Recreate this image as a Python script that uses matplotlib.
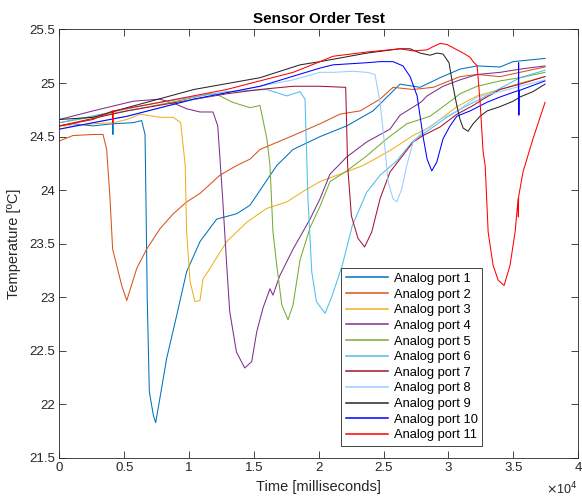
import matplotlib
matplotlib.use("Agg")
import matplotlib.pyplot as plt
from matplotlib.ticker import FuncFormatter, MultipleLocator

plt.rcParams['font.family'] = ['Liberation Sans', 'DejaVu Sans']

# Time stamps in milliseconds and temperatures in degrees C for each analog port
t1 = [0, 1040, 2590, 4100, 4120, 4140, 5670, 6340, 6600, 6670, 6770, 6930, 7240, 7420, 7750,
      8270, 9040, 9810, 10840, 12130, 13670, 14700, 15700, 16760, 18020, 20100, 22160, 24190,
      25270, 26270, 27810, 29360, 30900, 32220, 33990, 34990, 37460]
y1 = [24.60, 24.62, 24.60, 24.62, 24.52, 24.62, 24.63, 24.65, 24.52, 23.92, 22.99, 22.12, 21.90,
      21.83, 22.06, 22.43, 22.83, 23.24, 23.52, 23.73, 23.78, 23.86, 24.04, 24.23, 24.38, 24.50,
      24.60, 24.74, 24.87, 24.99, 24.96, 25.05, 25.13, 25.16, 25.15, 25.20, 25.23]

t2 = [0, 1040, 2590, 3360, 3640, 3900, 4100, 4410, 4800, 5190, 5960, 6730, 7750, 8780, 9810,
      10840, 12380, 13670, 14700, 15470, 18020, 20100, 21640, 23190, 24730, 25730, 27280, 28820,
      30900, 32220, 33990, 35530, 37460]
y2 = [24.46, 24.51, 24.52, 24.52, 24.38, 23.92, 23.45, 23.30, 23.11, 22.97, 23.27, 23.45, 23.64,
      23.78, 23.89, 23.97, 24.14, 24.23, 24.29, 24.38, 24.51, 24.62, 24.71, 24.74, 24.85, 24.96,
      24.94, 24.96, 25.06, 25.08, 25.06, 25.10, 25.15]

t3 = [0, 1040, 2590, 4130, 5210, 6240, 7750, 8780, 9350, 9700, 9810, 10070, 10450, 10840, 11070,
      11610, 12900, 14440, 15990, 17530, 19080, 20100, 21640, 23420, 25500, 27280, 28590, 30670,
      32220, 33990, 35530, 37460]
y3 = [24.60, 24.60, 24.62, 24.63, 24.66, 24.71, 24.68, 24.68, 24.63, 24.23, 23.61, 23.15, 22.96,
      22.97, 23.17, 23.27, 23.52, 23.70, 23.83, 23.89, 24.01, 24.08, 24.15, 24.23, 24.37, 24.51,
      24.59, 24.78, 24.88, 24.94, 25.00, 25.06]

t4 = [0, 2590, 5670, 7750, 9040, 9810, 10840, 11840, 12210, 12590, 12900, 13130, 13650, 14290,
      14830, 15220, 15700, 16240, 16470, 16990, 18020, 19330, 20100, 20870, 22160, 23700, 25500,
      26270, 27870, 28360, 29590, 30900, 32220, 33990, 35530, 37460]
y4 = [24.66, 24.74, 24.83, 24.85, 24.80, 24.76, 24.73, 24.73, 24.60, 23.92, 23.30, 22.87, 22.49,
      22.34, 22.40, 22.68, 22.90, 23.08, 23.02, 23.20, 23.45, 23.73, 23.92, 24.15, 24.31, 24.45,
      24.57, 24.70, 24.82, 24.88, 24.97, 25.03, 25.08, 25.10, 25.13, 25.16]

t5 = [0, 5210, 9040, 11610, 12380, 13360, 14700, 15470, 16000, 16240, 16470, 16760, 17150, 17630,
      18020, 18560, 19330, 20100, 20870, 22160, 23700, 25250, 26790, 28590, 30380, 30900, 32220,
      33990, 35530, 37460]
y5 = [24.63, 24.74, 24.83, 24.90, 24.88, 24.82, 24.77, 24.79, 24.48, 24.23, 23.61, 23.30, 22.93,
      22.79, 22.93, 23.35, 23.65, 23.85, 24.08, 24.18, 24.32, 24.48, 24.62, 24.69, 24.85, 24.90,
      24.97, 25.02, 25.05, 25.10]

t6 = [0, 7750, 12900, 16000, 17530, 18560, 18940, 19170, 19460, 19820, 20490, 21050, 21820, 22590,
      23700, 24730, 25990, 27280, 28590, 29880, 31140, 32450, 33990, 35530, 37460]
y6 = [24.63, 24.82, 24.92, 24.94, 24.88, 24.92, 24.85, 23.92, 23.24, 22.96, 22.85, 23.02, 23.30,
      23.67, 23.98, 24.14, 24.27, 24.46, 24.57, 24.68, 24.77, 24.85, 24.95, 25.05, 25.12]

t7 = [0, 5210, 9040, 12900, 15470, 18020, 20100, 22080, 22230, 22520, 23030, 23540, 24090, 24730,
      25500, 26270, 27280, 28050, 29360, 30670, 31910, 32680, 33990, 35530, 37460]
y7 = [24.60, 24.74, 24.82, 24.90, 24.94, 24.97, 24.97, 24.96, 24.23, 23.76, 23.55, 23.47, 23.61,
      23.92, 24.17, 24.29, 24.45, 24.51, 24.59, 24.71, 24.79, 24.85, 24.94, 24.99, 25.06]

t8 = [0, 5210, 10370, 15470, 18020, 20100, 21100, 22650, 23730, 24340, 24730, 25120, 25350, 25730,
      26020, 26400, 26790, 27280, 28050, 29360, 30670, 32220, 33990, 35530, 37460]
y8 = [24.57, 24.69, 24.85, 24.97, 25.03, 25.10, 25.10, 25.11, 25.10, 25.08, 24.82, 24.38, 24.08,
      23.92, 23.89, 24.01, 24.23, 24.45, 24.55, 24.66, 24.74, 24.87, 24.92, 24.97, 25.03]

t9 = [0, 2590, 5210, 10370, 15470, 18560, 20100, 23730, 26270, 27050, 27810, 28590, 29130, 29590,
      30050, 30360, 30670, 30900, 31140, 31520, 31910, 32450, 32990, 33990, 34990, 35530, 36530,
      37460]
y9 = [24.66, 24.68, 24.77, 24.94, 25.05, 25.17, 25.20, 25.28, 25.32, 25.32, 25.28, 25.26, 25.28,
      25.27, 25.19, 24.97, 24.78, 24.66, 24.58, 24.55, 24.62, 24.69, 24.74, 24.78, 24.83, 24.87,
      24.92, 24.99]

t10 = [0, 5210, 10370, 15470, 20100, 21100, 23730, 24730, 25730, 26500, 27050, 27590, 28050,
       28360, 28720, 29100, 29590, 30130, 30650, 31680, 32970, 33990, 35400, 35420, 35440, 35460,
       37460]
y10 = [24.57, 24.69, 24.85, 24.97, 25.14, 25.17, 25.19, 25.20, 25.20, 25.16, 25.06, 24.88, 24.50,
       24.29, 24.18, 24.26, 24.48, 24.60, 24.69, 24.74, 24.82, 24.87, 24.93, 25.19, 24.70, 24.93,
       25.02]

t11 = [0, 2590, 4100, 4120, 4140, 7750, 12900, 18020, 20100, 21100, 23730, 26270, 27280, 28360,
       28820, 29360, 29900, 30670, 31140, 31680, 31910, 32220, 32450, 32680, 32840, 33070, 33450,
       33840, 34300, 34760, 35150, 35380, 35400, 35420, 35760, 36530, 37460]
y11 = [24.60, 24.66, 24.74, 24.63, 24.74, 24.82, 24.94, 25.10, 25.20, 25.25, 25.29, 25.32, 25.30,
       25.31, 25.34, 25.37, 25.36, 25.31, 25.28, 25.24, 25.20, 25.16, 24.82, 24.36, 24.23, 23.61,
       23.30, 23.16, 23.11, 23.30, 23.61, 23.92, 23.75, 23.94, 24.17, 24.48, 24.82]

labels = ['Analog port %d' % i for i in range(1, 12)]
times = [t1, t2, t3, t4, t5, t6, t7, t8, t9, t10, t11]
temps = [y1, y2, y3, y4, y5, y6, y7, y8, y9, y10, y11]

colors = [(0.000, 0.447, 0.741), (0.850, 0.325, 0.098), (0.929, 0.694, 0.125),
          (0.494, 0.184, 0.556), (0.466, 0.674, 0.188), (0.301, 0.745, 0.933),
          (0.635, 0.078, 0.184), (0.600, 0.800, 1.000), (0.150, 0.150, 0.150),
          (0.000, 0.000, 1.000), (1.000, 0.000, 0.000)]

axis_gray = (0.15, 0.15, 0.15)

fig = plt.figure(figsize=(5.82, 4.99), dpi=100)
ax = fig.add_axes([0.1022, 0.0822, 0.8909, 0.8587])

for t, y, c, lab in zip(times, temps, colors, labels):
    ax.plot(t, y, color=c, lw=0.75, label=lab)

ax.set_xlim(0, 40000)
ax.set_ylim(21.5, 25.5)
ax.xaxis.set_major_locator(MultipleLocator(5000))
ax.yaxis.set_major_locator(MultipleLocator(0.5))
ax.xaxis.set_major_formatter(FuncFormatter(lambda v, p: '%g' % (v / 1e4)))
ax.yaxis.set_major_formatter(FuncFormatter(lambda v, p: '%g' % v))

ax.tick_params(direction='in', length=5, width=0.6, color=axis_gray, labelcolor=axis_gray,
               labelsize=9.5, top=True, right=True, pad=3)
for s in ax.spines.values():
    s.set_color(axis_gray)
    s.set_linewidth(0.6)

ax.set_title('Sensor Order Test', fontsize=11, fontweight='bold', color='black', pad=5)
ax.set_xlabel('Time [milliseconds]', fontsize=10.5, color=axis_gray, labelpad=4)
ax.set_ylabel('Temperature [ºC]', fontsize=10.5, color=axis_gray, labelpad=6)

ax.text(1.0, -0.072, r'$\times$10$^{4}$', transform=ax.transAxes, ha='right', va='center',
        fontsize=9, color=axis_gray)

leg = ax.legend(loc='lower right', bbox_to_anchor=(0.815, 0.028), fontsize=9.3,
                frameon=True, fancybox=False, edgecolor=axis_gray, framealpha=1,
                handlelength=3.3, labelspacing=0.28, borderpad=0.35, handletextpad=0.4,
                borderaxespad=0)
leg.get_frame().set_linewidth(0.6)
for line in leg.get_lines():
    line.set_linewidth(1.1)
for txt in leg.get_texts():
    txt.set_color('black')

fig.savefig('out.png', dpi=100)
